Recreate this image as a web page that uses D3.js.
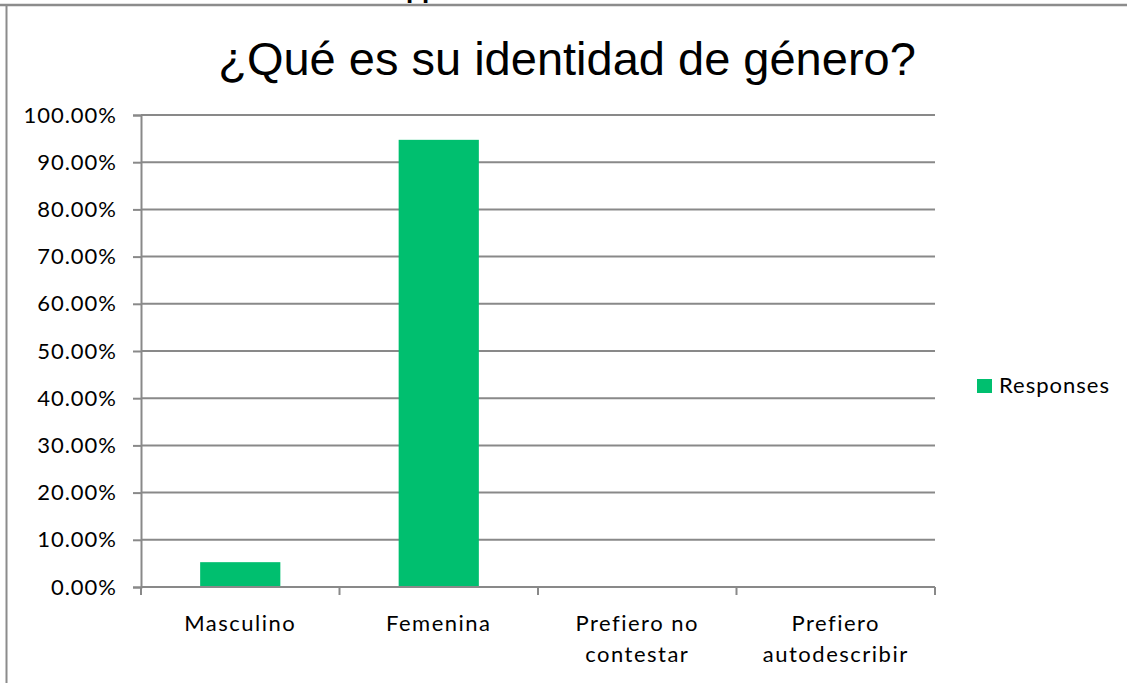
<!DOCTYPE html>
<html>
<head>
<meta charset="utf-8">
<script src="https://cdn.jsdelivr.net/npm/d3@7"></script>
<style>
  html, body { margin: 0; padding: 0; background: #fff; }
  svg { display: block; }
</style>
</head>
<body>
<svg id="chart" width="1127" height="683"></svg>
<script>
// Survey question: gender identity, share of responses
const categories = [["Masculino"], ["Femenina"], ["Prefiero no", "contestar"], ["Prefiero", "autodescribir"]];
const responses = [0.0526, 0.9474, 0, 0];
const yTicks = [0, 0.1, 0.2, 0.3, 0.4, 0.5, 0.6, 0.7, 0.8, 0.9, 1.0];
const seriesName = "Responses";
const title = "¿Qué es su identidad de género?";

const svg = d3.select("#chart");
const W = 1127, H = 683;
const green = "#00BF6F";
const gridColor = "#898989";
const labelFont = "Lato, 'Open Sans', sans-serif";

const plot = { left: 141, right: 935, top: 115, bottom: 587 };

// Frame around the chart object (top and left edges visible)
svg.append("line").attr("x1", 0).attr("x2", W).attr("y1", 5).attr("y2", 5)
  .attr("stroke", "#8c8c8c").attr("stroke-width", 2.5);
svg.append("line").attr("x1", 6.5).attr("x2", 6.5).attr("y1", 5).attr("y2", H)
  .attr("stroke", "#8c8c8c").attr("stroke-width", 2);

// Heading text above the frame, mostly out of view
svg.append("text").attr("x", 406).attr("y", -2)
  .attr("font-family", "'Liberation Sans', Arial, sans-serif")
  .attr("font-weight", "bold").attr("font-size", 26).attr("fill", "#000")
  .text("pp");

// Title, centred over the chart area
svg.append("text")
  .attr("x", 567).attr("y", 75)
  .attr("text-anchor", "middle")
  .attr("font-family", "'Liberation Sans', Arial, sans-serif")
  .attr("font-size", 47).attr("fill", "#000")
  .text(title);

const x = d3.scaleBand()
  .domain(d3.range(categories.length))
  .range([plot.left, plot.right])
  .paddingInner(0.596).paddingOuter(0.298);

const y = d3.scaleLinear().domain([0, 1]).range([plot.bottom, plot.top]);

// Horizontal gridlines
svg.append("g").selectAll("line").data(yTicks.slice(1)).join("line")
  .attr("x1", plot.left).attr("x2", plot.right)
  .attr("y1", d => y(d)).attr("y2", d => y(d))
  .attr("stroke", gridColor).attr("stroke-width", 2);

// Bars
svg.append("g").selectAll("rect").data(responses).join("rect")
  .attr("x", (d, i) => x(i))
  .attr("width", x.bandwidth())
  .attr("y", d => y(d))
  .attr("height", d => y(0) - y(d))
  .attr("fill", green);

// Y axis
const yAxis = svg.append("g")
  .attr("transform", `translate(${plot.left},0)`)
  .call(d3.axisLeft(y).tickValues(yTicks).tickFormat(d3.format(".2%")).tickSize(8).tickPadding(16));
yAxis.select(".domain").attr("stroke", gridColor).attr("stroke-width", 2);
yAxis.selectAll(".tick line").attr("stroke", gridColor).attr("stroke-width", 2);
yAxis.selectAll("text").attr("font-family", labelFont).attr("font-size", 22)
  .attr("letter-spacing", 1).attr("fill", "#000");

// X axis: baseline and category boundary ticks
const step = (plot.right - plot.left) / categories.length;
svg.append("line").attr("x1", plot.left).attr("x2", plot.right)
  .attr("y1", plot.bottom).attr("y2", plot.bottom)
  .attr("stroke", gridColor).attr("stroke-width", 2);
svg.append("g").selectAll("line").data(d3.range(categories.length + 1)).join("line")
  .attr("x1", i => plot.left + i * step).attr("x2", i => plot.left + i * step)
  .attr("y1", plot.bottom).attr("y2", plot.bottom + 8)
  .attr("stroke", gridColor).attr("stroke-width", 2);

// Category labels
const xl = svg.append("g").selectAll("text").data(categories).join("text")
  .attr("x", (d, i) => x(i) + x.bandwidth() / 2)
  .attr("y", 631)
  .attr("text-anchor", "middle")
  .attr("font-family", labelFont).attr("font-size", 22)
  .attr("letter-spacing", 1.5).attr("fill", "#000");
xl.selectAll("tspan").data(d => d).join("tspan")
  .attr("x", function () { return d3.select(this.parentNode).attr("x"); })
  .attr("dy", (d, i) => i === 0 ? 0 : 31)
  .text(d => d);

// Legend
svg.append("rect").attr("x", 977).attr("y", 379).attr("width", 15).attr("height", 14).attr("fill", green);
svg.append("text").attr("x", 999).attr("y", 393)
  .attr("font-family", labelFont).attr("font-size", 22)
  .attr("letter-spacing", 1).attr("fill", "#000")
  .text(seriesName);
</script>
</body>
</html>
